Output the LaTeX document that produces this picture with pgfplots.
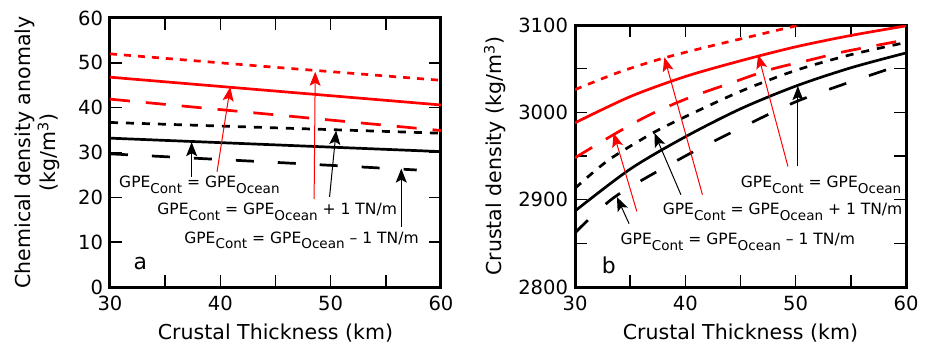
\documentclass[border=0pt]{standalone}
\usepackage{pgfplots}
\pgfplotsset{compat=1.18}
\usepackage{fontspec}
\setmainfont{DejaVu Sans}
\usetikzlibrary{arrows.meta}
\newcommand{\sub}[1]{\raisebox{-2.8bp}{\fontsize{6.8}{7}\selectfont #1}}
\newcommand{\gA}{GPE\sub{Cont} = GPE\sub{Ocean}}
\tikzset{
  anno/.style={font=\fontsize{7.8}{9}\selectfont, anchor=base west, inner sep=0pt},
  arr/.style={line width=0.5bp, -{Stealth[length=7bp,width=5.5bp,inset=1.5bp]}},
}
\pgfplotsset{
  myax/.style={
    scale only axis, width=165.5bp,
    xmin=30, xmax=60,
    axis line style={line width=1.5bp},
    tick style={line width=0.8bp, black},
    major tick length=6bp,
    tick align=inside,
    xtick={30,35,...,60},
    xticklabels={30,,40,,50,,60},
    tick label style={font=\fontsize{9.8}{11}\selectfont},
    xticklabel style={yshift=-1bp},
    /pgf/number format/assume math mode=true,
    label style={font=\fontsize{10.3}{12.5}\selectfont},
    xlabel={Crustal Thickness (km)},
    xlabel style={at={(axis description cs:0.5,0)}, anchor=center, yshift=-23bp},
    every axis plot/.append style={line width=1.35bp},
  }
}
\begin{document}
\begin{tikzpicture}
\useasboundingbox (0,0) rectangle (462.5bp,175.5bp);
\begin{axis}[myax, at={(55bp,32bp)}, anchor=south west, height=134.5bp,
  ymin=0, ymax=60, ytick={0,10,...,60},
  ylabel={Chemical density anomaly\\(kg/m\textsuperscript{3})},
  ylabel style={align=center, at={(axis description cs:0,0.5)}, anchor=center, yshift=36.25bp},
]
\addplot[red, dash pattern=on 3.5bp off 3.5bp] coordinates {(30,52.0) (45,49.0) (60,46.1)};
\addplot[red] coordinates {(30,46.8) (45,43.7) (60,40.6)};
\addplot[red, dash pattern=on 10bp off 8bp] coordinates {(30,41.9) (45,38.4) (60,34.9)};
\addplot[black, dash pattern=on 4bp off 4bp] coordinates {(30,36.7) (45,35.5) (60,34.3)};
\addplot[black] coordinates {(30,33.2) (45,31.7) (60,30.2)};
\addplot[black, dash pattern=on 9bp off 12bp] coordinates {(30,29.7) (45,27.8) (57.8,26.1)};
\draw[arr, black] (axis cs:37.4,24.6) -- (axis cs:37.4,32.3);
\draw[arr, red] (axis cs:39.7,25.7) -- (axis cs:40.9,44.6);
\draw[arr, red] (axis cs:48.5,19.6) -- (axis cs:48.6,48.0);
\draw[arr, black] (axis cs:49.9,20.1) -- (axis cs:50.5,34.9);
\draw[arr, black] (axis cs:56.4,13.4) -- (axis cs:56.4,26.4);
\node[anno] at (axis cs:30.8,22.1) {\gA};
\node[anno] at (axis cs:34.26,16.07) {\gA{} + 1 TN/m};
\node[anno] at (axis cs:36.7,9.75) {\gA{} – 1 TN/m};
\node[anno, font=\fontsize{11}{12}\selectfont] at (axis cs:32.1,3.87) {a};
\end{axis}
\begin{axis}[myax, at={(287.5bp,32bp)}, anchor=south west, height=131bp,
  ymin=2800, ymax=3100, ytick={2800,2850,...,3100},
  yticklabels={2800,,2900,,3000,,3100},
  ylabel={Crustal density (kg/m\textsuperscript{3})},
  ylabel style={at={(axis description cs:0,0.5)}, anchor=center, yshift=40bp},
]
\addplot[red, smooth, dash pattern=on 3.5bp off 3.5bp] coordinates {(30,3026) (34,3046) (38,3062) (42,3075) (46,3087) (50,3099) (52,3105)};
\addplot[red, smooth] coordinates {(30,2988) (35,3018) (40,3041) (45,3059) (50,3075) (55,3088) (60,3099)};
\addplot[red, smooth, dash pattern=on 10bp off 8bp] coordinates {(30,2948) (33.7,2976) (36.9,2998) (40.4,3017) (44,3033) (47.7,3049) (51.3,3060) (54.6,3070) (60,3083)};
\addplot[black, smooth, dash pattern=on 4bp off 4bp] coordinates {(30,2913) (33,2945) (37,2976) (40,2995) (45,3024) (50,3048) (55,3066) (60,3080)};
\addplot[black, smooth] coordinates {(30,2887) (35,2935) (40,2972) (45,3004) (50,3030) (55,3051) (60,3068)};
\addplot[black, smooth, dash pattern=on 9bp off 12bp] coordinates {(30,2862) (33.7,2904) (40,2950) (45,2982) (50,3012) (55,3035) (60,3056)};
\draw[arr, red] (axis cs:35.6,2886.6) -- (axis cs:33.5,2976.3);
\draw[arr, black] (axis cs:39.6,2905.7) -- (axis cs:37.2,2976.3);
\draw[arr, red] (axis cs:41.55,2905.7) -- (axis cs:38.1,3063);
\draw[arr, red] (axis cs:49.3,2938) -- (axis cs:46.6,3066);
\draw[arr, black] (axis cs:50.2,2938) -- (axis cs:50.2,3030);
\draw[arr, black] (axis cs:34.9,2872.5) -- (axis cs:33.8,2903);
\node[anno] at (axis cs:45.0,2913.4) {\gA};
\node[anno] at (axis cs:37.92,2882.8) {\gA{} + 1 TN/m};
\node[anno] at (axis cs:34.1,2848.5) {\gA{} – 1 TN/m};
\node[anno, font=\fontsize{11}{12}\selectfont] at (axis cs:32.4,2816) {b};
\end{axis}
\end{tikzpicture}
\end{document}
